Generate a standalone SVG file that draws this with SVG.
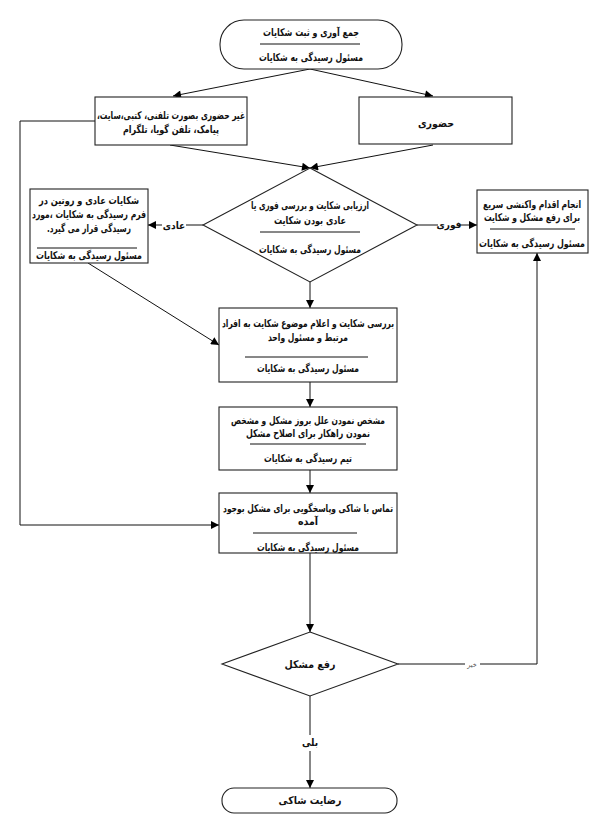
<svg xmlns="http://www.w3.org/2000/svg" width="604" height="824" viewBox="0 0 604 824">
<defs>
<marker id="ah" viewBox="0 0 10 10" refX="10" refY="5" markerWidth="9" markerHeight="8" markerUnits="userSpaceOnUse" orient="auto">
<path d="M0,0 L10,5 L0,10 z" fill="#000"/>
</marker>
<style>
.s{fill:#fff;stroke:#222;stroke-width:1.1}
.c{fill:none;stroke:#111;stroke-width:1}
.sep{stroke:#111;stroke-width:1}
text{font-family:"DejaVu Sans Condensed","DejaVu Sans",sans-serif;font-size:10.5px;font-weight:bold;fill:#111;text-anchor:middle;direction:rtl}
.lb{font-size:10px}
.sm{font-weight:normal;font-size:7px;fill:#555}
</style>
</defs>
<rect width="604" height="824" fill="#fff"/>

<g id="connectors">
<line class="c" x1="310" y1="69" x2="173" y2="96" marker-end="url(#ah)"/>
<line class="c" x1="310" y1="69" x2="433" y2="96" marker-end="url(#ah)"/>
<line class="c" x1="170" y1="145" x2="310" y2="168" marker-end="url(#ah)"/>
<line class="c" x1="433" y1="145" x2="310" y2="168" marker-end="url(#ah)"/>
<path class="c" d="M95,121 H20 V525 H219" marker-end="url(#ah)"/>
<path class="c" d="M203,225 H186 M162,225 H148" marker-end="url(#ah)"/>
<path class="c" d="M417,225 H438 M460,225 H477" marker-end="url(#ah)"/>
<line class="c" x1="310" y1="282" x2="310" y2="308" marker-end="url(#ah)"/>
<line class="c" x1="88" y1="263" x2="219" y2="345" marker-end="url(#ah)"/>
<line class="c" x1="310" y1="382" x2="310" y2="407" marker-end="url(#ah)"/>
<line class="c" x1="310" y1="470" x2="310" y2="493" marker-end="url(#ah)"/>
<line class="c" x1="310" y1="553" x2="310" y2="632" marker-end="url(#ah)"/>
<path class="c" d="M310,696 V735 M310,751 V788" marker-end="url(#ah)"/>
<path class="c" d="M398,664 H465 M480,664 H537 V253" marker-end="url(#ah)"/>
<text class="lb" x="174" y="229">عادی</text>
<text class="lb" x="449" y="228">فوری</text>
<text class="sm" x="472" y="667">خیر</text>
<text class="lb" x="310" y="746">بلی</text>
</g>

<g id="start">
<rect class="s" x="220" y="20" width="182" height="49" rx="24" ry="24"/>
<text x="311" y="36" textLength="96" lengthAdjust="spacingAndGlyphs">جمع آوری و ثبت شکایات</text>
<line class="sep" x1="260" y1="44" x2="360" y2="44"/>
<text x="311" y="61" textLength="104" lengthAdjust="spacingAndGlyphs">مسئول رسیدگی به شکایات</text>
</g>

<g id="nonpresent">
<rect class="s" x="95" y="97" width="152" height="48"/>
<text x="171" y="119" textLength="148" lengthAdjust="spacingAndGlyphs">غیر حضوری بصورت تلفنی، کتبی،سایت،</text>
<text x="171" y="133" textLength="96" lengthAdjust="spacingAndGlyphs">پیامک، تلفن گویا، تلگرام</text>
</g>

<g id="present">
<rect class="s" x="359" y="97" width="153" height="47"/>
<text x="436" y="127">حضوری</text>
</g>

<g id="assess">
<polygon class="s" points="310,168 417,225 310,282 203,225"/>
<text x="310" y="209" textLength="118" lengthAdjust="spacingAndGlyphs">ارزیابی شکایت و بررسی فوری یا</text>
<text x="310" y="224" textLength="72" lengthAdjust="spacingAndGlyphs">عادی بودن شکایت</text>
<line class="sep" x1="260" y1="232" x2="360" y2="232"/>
<text x="310" y="253" textLength="102" lengthAdjust="spacingAndGlyphs">مسئول رسیدگی به شکایات</text>
</g>

<g id="routine">
<rect class="s" x="30" y="189" width="118" height="74"/>
<text x="89" y="204" textLength="100" lengthAdjust="spacingAndGlyphs">شکایات عادی و روتین   در</text>
<text x="89" y="218" textLength="114" lengthAdjust="spacingAndGlyphs">فرم رسیدگی به شکایات ،مورد</text>
<text x="89" y="232" textLength="84" lengthAdjust="spacingAndGlyphs">رسیدگی قرار می گیرد.</text>
<line class="sep" x1="37" y1="248" x2="137" y2="248"/>
<text x="89" y="259" textLength="106" lengthAdjust="spacingAndGlyphs">مسئول رسیدگی به شکایات</text>
</g>

<g id="urgent">
<rect class="s" x="477" y="190" width="111" height="63"/>
<text x="532" y="208" textLength="98" lengthAdjust="spacingAndGlyphs">انجام اقدام واکنشی سریع</text>
<text x="532" y="221" textLength="96" lengthAdjust="spacingAndGlyphs">برای رفع مشکل و شکایت</text>
<line class="sep" x1="490" y1="229" x2="575" y2="229"/>
<text x="532" y="247" textLength="106" lengthAdjust="spacingAndGlyphs">مسئول رسیدگی به شکایات</text>
</g>

<g id="review">
<rect class="s" x="219" y="308" width="178" height="74"/>
<text x="308" y="327" textLength="172" lengthAdjust="spacingAndGlyphs">بررسی شکایت و اعلام موضوع شکایت به افراد</text>
<text x="308" y="341" textLength="80" lengthAdjust="spacingAndGlyphs">مرتبط و مسئول واحد</text>
<line class="sep" x1="245" y1="357" x2="368" y2="357"/>
<text x="308" y="372" textLength="102" lengthAdjust="spacingAndGlyphs">مسئول رسیدگی به شکایات</text>
</g>

<g id="cause">
<rect class="s" x="219" y="407" width="178" height="63"/>
<text x="308" y="424" textLength="154" lengthAdjust="spacingAndGlyphs">مشخص نمودن علل بروز مشکل و مشخص</text>
<text x="308" y="437" textLength="124" lengthAdjust="spacingAndGlyphs">نمودن راهکار برای اصلاح مشکل</text>
<line class="sep" x1="250" y1="444" x2="366" y2="444"/>
<text x="308" y="462" textLength="88" lengthAdjust="spacingAndGlyphs">تیم رسیدگی به شکایات</text>
</g>

<g id="contact">
<rect class="s" x="219" y="493" width="178" height="60"/>
<text x="308" y="512" textLength="170" lengthAdjust="spacingAndGlyphs">تماس با شاکی وپاسخگویی برای مشکل بوجود</text>
<text x="308" y="525">آمده</text>
<line class="sep" x1="253" y1="533" x2="357" y2="533"/>
<text x="308" y="551" textLength="102" lengthAdjust="spacingAndGlyphs">مسئول رسیدگی به شکایات</text>
</g>

<g id="resolved">
<polygon class="s" points="310,632 398,664 310,696 222,664"/>
<text x="310" y="668">رفع مشکل</text>
</g>

<g id="end">
<rect class="s" x="222" y="788" width="175" height="25" rx="12" ry="12"/>
<text x="310" y="804">رضایت شاکی</text>
</g>
</svg>
